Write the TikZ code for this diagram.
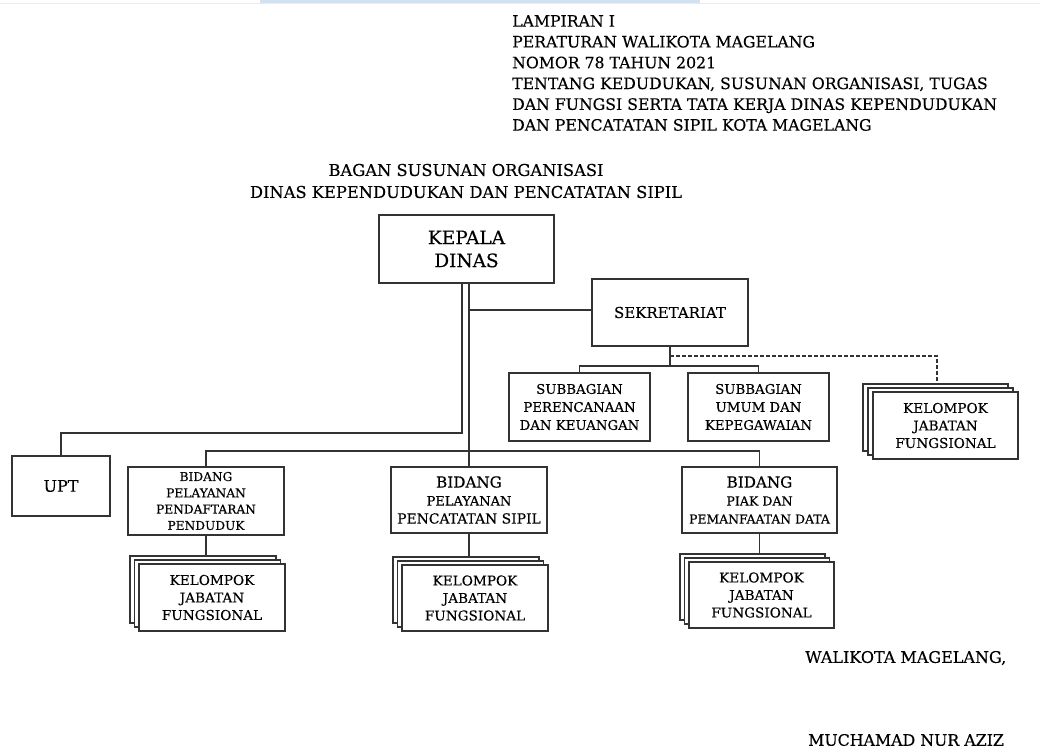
\documentclass[tikz,border=0pt]{standalone}
\usepackage{fontspec}
\setmainfont{DejaVu Serif}[FakeBold=0.3]
\definecolor{ln}{HTML}{333333}
\definecolor{band}{HTML}{CFE2F3}
\newcommand{\fs}[2]{\fontsize{#1}{#2}\selectfont}
\begin{document}
\begin{tikzpicture}[x=1pt,y=-1pt,
  box/.style={draw=ln, line width=1.3pt, fill=white, align=center, inner sep=0pt, text=black},
  back/.style={draw=ln, line width=1.3pt, fill=white},
  conn/.style={draw=ln, line width=1.2pt},
  dconn/.style={draw=ln, line width=1.2pt, dash pattern=on 3.5pt off 2.5pt},
  txt/.style={inner sep=0pt, anchor=west, align=left, text=black},
  kjf/.style={box, font=\fs{13.6}{17.5}}]
\useasboundingbox (0,0) rectangle (1040,751);
\fill[white] (0,0) rectangle (1040,751);
\fill[band] (260,0) rectangle (700,3);
\draw[black!8, line width=0.8pt] (0,3.5) -- (1040,3.5);

% header
\node[txt, anchor=north west, font=\fs{15.7}{20.8}] (hdr) at (512,15) {LAMPIRAN I\\PERATURAN WALIKOTA MAGELANG\\NOMOR 78 TAHUN 2021\\TENTANG KEDUDUKAN, SUSUNAN ORGANISASI, TUGAS\\DAN FUNGSI SERTA TATA KERJA DINAS KEPENDUDUKAN\\DAN PENCATATAN SIPIL KOTA MAGELANG};
\node[inner sep=0pt, align=center, font=\fs{16.3}{22}] (title) at (466,181) {BAGAN SUSUNAN ORGANISASI\\DINAS KEPENDUDUKAN DAN PENCATATAN SIPIL};

% boxes
\node[box, minimum width=175, minimum height=68, font=\fs{18.5}{23}] (kd) at (466.5,249) {KEPALA\\DINAS};
\node[box, minimum width=156, minimum height=67, font=\fs{15}{18}] (sek) at (670,312.5) {SEKRETARIAT};
\node[box, minimum width=141, minimum height=68, font=\fs{13.3}{18}] (sbp) at (579.5,407) {SUBBAGIAN\\PERENCANAAN\\DAN KEUANGAN};
\node[box, minimum width=141, minimum height=68, font=\fs{13.3}{18}] (sbu) at (758.5,407) {SUBBAGIAN\\UMUM DAN\\KEPEGAWAIAN};
\node[box, minimum width=98, minimum height=60, font=\fs{16}{18}] (upt) at (61,486) {UPT};
\node[box, minimum width=156, minimum height=68, font=\fs{12.2}{16.3}] (b1) at (206,501) {BIDANG\\PELAYANAN\\PENDAFTARAN\\PENDUDUK};
\node[box, minimum width=156, minimum height=66, font=\fs{13}{18}] (b2) at (469,500) {{\fs{15.2}{18}BIDANG}\\{\fs{13}{18}PELAYANAN}\\{\fs{13.9}{18}PENCATATAN SIPIL}};
\node[box, minimum width=155, minimum height=66, font=\fs{13}{18}] (b3) at (759.5,500) {{\fs{15.2}{18}BIDANG}\\{\fs{12.6}{18}PIAK DAN}\\{\fs{12.4}{18}PEMANFAATAN DATA}};

% stacked groups
\draw[back] (863,384) rectangle (1008,451);
\draw[back] (868,388) rectangle (1013,455);
\node[kjf, minimum width=145, minimum height=67] (kr) at (945.5,425.5) {KELOMPOK\\JABATAN\\FUNGSIONAL};
\draw[back] (130,556) rectangle (276,623);
\draw[back] (134.5,560) rectangle (280.5,627);
\node[kjf, minimum width=146, minimum height=67] (k1) at (212,597.5) {KELOMPOK\\JABATAN\\FUNGSIONAL};
\draw[back] (393,557) rectangle (539,623);
\draw[back] (397.5,561) rectangle (543.5,627);
\node[kjf, minimum width=146, minimum height=66] (k2) at (475,598) {KELOMPOK\\JABATAN\\FUNGSIONAL};
\draw[back] (680,554) rectangle (825,620);
\draw[back] (684.5,558) rectangle (829.5,624);
\node[kjf, minimum width=145, minimum height=66] (k3) at (761.5,595) {KELOMPOK\\JABATAN\\FUNGSIONAL};

% connector points
\coordinate (kdl) at (462,283);
\coordinate (uptj) at (462,433);
\coordinate (sekj) at (469,310);
\coordinate (bar) at (469,451);
\coordinate (sbar) at (670,366);
\coordinate (dj) at (670,356);
\coordinate (krtop) at (937,384);
\coordinate (k1top) at (206,556);
\coordinate (k2top) at (469,557);
\coordinate (k3top) at (759.5,554);

% connectors
\draw[conn] (kdl) -- (uptj) -| (upt.north);
\draw[conn] (kd.south -| b2.north) -- (b2.north);
\draw[conn] (sekj) -- (sekj -| sek.west);
\draw[conn] (b1.north) |- (bar) -| (b3.north);
\draw[conn] (sek.south) -- (sbar);
\draw[conn] (sbp.north) |- (sbar) -| (sbu.north);
\draw[dconn] (dj) -| (krtop);
\draw[conn] (b1.south) -- (k1top);
\draw[conn] (b2.south) -- (k2top);
\draw[conn] (b3.south) -- (k3top);

% signature
\node[txt, font=\fs{16}{18}] (wk) at (805,658) {WALIKOTA MAGELANG,};
\node[txt, font=\fs{15.8}{18}] (nm) at (808,740) {MUCHAMAD NUR AZIZ};
\end{tikzpicture}
\end{document}
